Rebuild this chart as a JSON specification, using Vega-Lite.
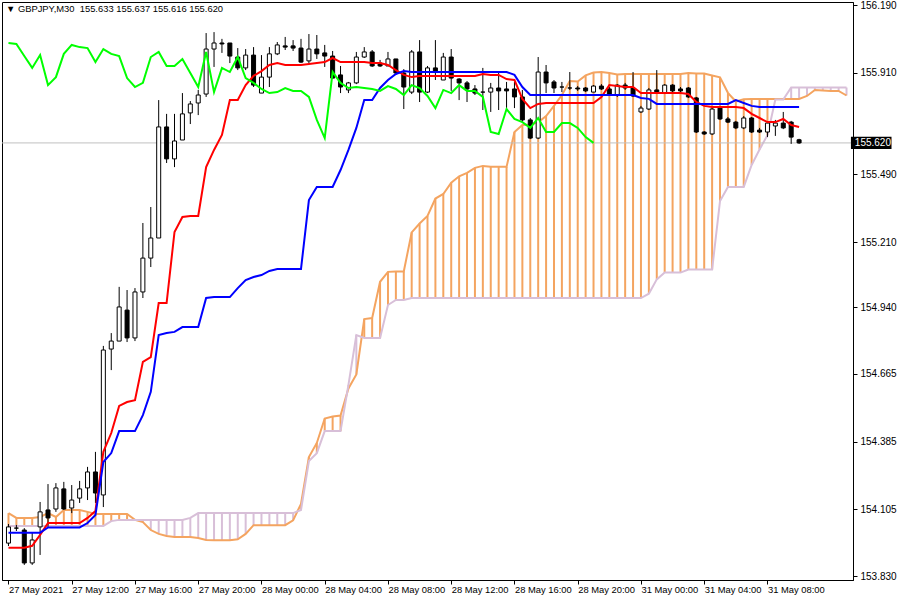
{
"$schema": "https://vega.github.io/schema/vega-lite/v6.json",
"width": 851, "height": 578,
"autosize": {"type": "none"},
"padding": {"left": 2, "top": 2, "right": 47, "bottom": 20},
"background": "white",
"config": {"view": {"stroke": "black", "strokeWidth": 1}, "font": "Liberation Sans"},
"title": {"text": "▼ GBPJPY,M30\u00a0 155.633 155.637 155.616 155.620", "anchor": "start", "frame": "group", "orient": "top", "baseline": "top", "offset": -14, "dx": 4, "fontSize": 9.4, "fontWeight": "normal", "color": "black", "font": "Liberation Sans"},
"datasets": {"d": [
{"i":0,"o":153.966,"h":154.045,"l":153.954,"c":154.033,"t":153.947,"k":154.009,"ch":156.033,"sa":154.090,"sb":154.037},
{"i":1,"o":154.028,"h":154.041,"l":154.016,"c":154.028,"t":153.947,"k":154.009,"ch":156.029,"sa":154.070,"sb":154.037},
{"i":2,"o":154.020,"h":154.028,"l":153.876,"c":153.884,"t":153.947,"k":154.009,"ch":155.979,"sa":154.070,"sb":154.037},
{"i":3,"o":153.884,"h":154.010,"l":153.876,"c":153.979,"t":153.955,"k":154.009,"ch":155.930,"sa":154.070,"sb":154.037},
{"i":4,"o":154.033,"h":154.136,"l":153.917,"c":154.095,"t":154.000,"k":154.009,"ch":155.983,"sa":154.074,"sb":154.037},
{"i":5,"o":154.103,"h":154.210,"l":154.033,"c":154.070,"t":154.049,"k":154.031,"ch":155.859,"sa":154.090,"sb":154.037},
{"i":6,"o":154.107,"h":154.214,"l":154.095,"c":154.194,"t":154.049,"k":154.031,"ch":155.892,"sa":154.074,"sb":154.037},
{"i":7,"o":154.190,"h":154.219,"l":154.103,"c":154.107,"t":154.049,"k":154.031,"ch":155.988,"sa":154.103,"sb":154.037},
{"i":8,"o":154.111,"h":154.206,"l":154.090,"c":154.144,"t":154.049,"k":154.031,"ch":156.025,"sa":154.103,"sb":154.037},
{"i":9,"o":154.152,"h":154.223,"l":154.132,"c":154.190,"t":154.049,"k":154.031,"ch":156.016,"sa":154.103,"sb":154.037},
{"i":10,"o":154.194,"h":154.281,"l":154.144,"c":154.260,"t":154.070,"k":154.049,"ch":156.012,"sa":154.095,"sb":154.037},
{"i":11,"o":154.260,"h":154.343,"l":154.132,"c":154.173,"t":154.099,"k":154.082,"ch":155.954,"sa":154.086,"sb":154.037},
{"i":12,"o":154.165,"h":154.781,"l":154.115,"c":154.764,"t":154.343,"k":154.301,"ch":156.008,"sa":154.086,"sb":154.037},
{"i":13,"o":154.768,"h":154.834,"l":154.681,"c":154.801,"t":154.421,"k":154.338,"ch":155.988,"sa":154.086,"sb":154.057},
{"i":14,"o":154.801,"h":155.025,"l":154.801,"c":154.942,"t":154.533,"k":154.429,"ch":155.979,"sa":154.086,"sb":154.062},
{"i":15,"o":154.929,"h":155.012,"l":154.797,"c":154.814,"t":154.549,"k":154.429,"ch":155.888,"sa":154.086,"sb":154.062},
{"i":16,"o":154.814,"h":155.020,"l":154.801,"c":155.004,"t":154.557,"k":154.429,"ch":155.851,"sa":154.062,"sb":154.062},
{"i":17,"o":155.004,"h":155.289,"l":154.979,"c":155.144,"t":154.715,"k":154.495,"ch":155.868,"sa":154.053,"sb":154.062},
{"i":18,"o":155.144,"h":155.355,"l":155.107,"c":155.227,"t":154.735,"k":154.591,"ch":155.975,"sa":154.020,"sb":154.062},
{"i":19,"o":155.227,"h":155.797,"l":155.227,"c":155.686,"t":154.958,"k":154.826,"ch":155.996,"sa":154.004,"sb":154.062},
{"i":20,"o":155.686,"h":155.740,"l":155.537,"c":155.554,"t":154.958,"k":154.834,"ch":155.938,"sa":153.995,"sb":154.062},
{"i":21,"o":155.554,"h":155.740,"l":155.520,"c":155.628,"t":155.252,"k":154.839,"ch":155.938,"sa":153.991,"sb":154.062},
{"i":22,"o":155.632,"h":155.826,"l":155.632,"c":155.740,"t":155.314,"k":154.859,"ch":155.967,"sa":153.991,"sb":154.062},
{"i":23,"o":155.744,"h":155.793,"l":155.698,"c":155.781,"t":155.318,"k":154.859,"ch":155.909,"sa":153.991,"sb":154.070},
{"i":24,"o":155.785,"h":155.839,"l":155.735,"c":155.818,"t":155.318,"k":154.859,"ch":155.851,"sa":153.987,"sb":154.090},
{"i":25,"o":155.822,"h":156.074,"l":155.810,"c":156.008,"t":155.520,"k":154.979,"ch":155.996,"sa":153.979,"sb":154.090},
{"i":26,"o":156.008,"h":156.078,"l":155.934,"c":156.033,"t":155.591,"k":154.983,"ch":155.830,"sa":153.978,"sb":154.090},
{"i":27,"o":156.033,"h":156.050,"l":155.992,"c":156.029,"t":155.653,"k":154.983,"ch":155.930,"sa":153.978,"sb":154.090},
{"i":28,"o":156.033,"h":156.033,"l":155.950,"c":155.979,"t":155.797,"k":154.983,"ch":155.913,"sa":153.978,"sb":154.090},
{"i":29,"o":155.975,"h":156.012,"l":155.921,"c":155.930,"t":155.797,"k":155.020,"ch":155.975,"sa":153.982,"sb":154.090},
{"i":30,"o":155.930,"h":156.008,"l":155.921,"c":155.983,"t":155.859,"k":155.053,"ch":155.888,"sa":154.004,"sb":154.090},
{"i":31,"o":155.983,"h":156.016,"l":155.851,"c":155.859,"t":155.897,"k":155.066,"ch":155.868,"sa":154.040,"sb":154.090},
{"i":32,"o":155.826,"h":155.983,"l":155.826,"c":155.892,"t":155.917,"k":155.074,"ch":155.843,"sa":154.040,"sb":154.090},
{"i":33,"o":155.892,"h":156.016,"l":155.851,"c":155.988,"t":155.942,"k":155.091,"ch":155.826,"sa":154.040,"sb":154.090},
{"i":34,"o":155.988,"h":156.037,"l":155.983,"c":156.025,"t":155.950,"k":155.099,"ch":155.830,"sa":154.040,"sb":154.090},
{"i":35,"o":156.021,"h":156.058,"l":156.004,"c":156.016,"t":155.942,"k":155.099,"ch":155.847,"sa":154.040,"sb":154.090},
{"i":36,"o":156.021,"h":156.045,"l":156.000,"c":156.012,"t":155.942,"k":155.099,"ch":155.835,"sa":154.060,"sb":154.090},
{"i":37,"o":156.012,"h":156.050,"l":155.950,"c":155.954,"t":155.942,"k":155.099,"ch":155.835,"sa":154.128,"sb":154.103},
{"i":38,"o":155.959,"h":156.070,"l":155.950,"c":156.008,"t":155.946,"k":155.384,"ch":155.810,"sa":154.322,"sb":154.305},
{"i":39,"o":156.008,"h":156.066,"l":155.967,"c":155.988,"t":155.950,"k":155.438,"ch":155.715,"sa":154.380,"sb":154.338},
{"i":40,"o":155.992,"h":156.025,"l":155.934,"c":155.979,"t":155.954,"k":155.438,"ch":155.640,"sa":154.481,"sb":154.429},
{"i":41,"o":155.979,"h":156.000,"l":155.884,"c":155.888,"t":155.971,"k":155.438,"ch":155.913,"sa":154.489,"sb":154.429},
{"i":42,"o":155.901,"h":155.938,"l":155.826,"c":155.851,"t":155.954,"k":155.508,"ch":155.868,"sa":154.493,"sb":154.429},
{"i":43,"o":155.839,"h":155.872,"l":155.826,"c":155.868,"t":155.954,"k":155.591,"ch":155.847,"sa":154.605,"sb":154.620},
{"i":44,"o":155.868,"h":155.996,"l":155.863,"c":155.975,"t":155.954,"k":155.682,"ch":155.851,"sa":154.663,"sb":154.826},
{"i":45,"o":155.975,"h":156.016,"l":155.971,"c":155.996,"t":155.954,"k":155.797,"ch":155.847,"sa":154.892,"sb":154.814},
{"i":46,"o":155.996,"h":156.004,"l":155.934,"c":155.938,"t":155.950,"k":155.797,"ch":155.843,"sa":154.896,"sb":154.814},
{"i":47,"o":155.950,"h":155.963,"l":155.934,"c":155.938,"t":155.950,"k":155.847,"ch":155.835,"sa":155.046,"sb":154.814},
{"i":48,"o":155.938,"h":155.996,"l":155.938,"c":155.967,"t":155.942,"k":155.880,"ch":155.855,"sa":155.087,"sb":154.950},
{"i":49,"o":155.967,"h":155.967,"l":155.901,"c":155.909,"t":155.921,"k":155.905,"ch":155.843,"sa":155.089,"sb":154.971},
{"i":50,"o":155.909,"h":155.925,"l":155.760,"c":155.851,"t":155.901,"k":155.917,"ch":155.818,"sa":155.089,"sb":154.971},
{"i":51,"o":155.830,"h":156.004,"l":155.822,"c":155.996,"t":155.892,"k":155.913,"ch":155.859,"sa":155.250,"sb":154.979},
{"i":52,"o":155.996,"h":156.045,"l":155.789,"c":155.830,"t":155.897,"k":155.913,"ch":155.847,"sa":155.287,"sb":154.979},
{"i":53,"o":155.830,"h":155.938,"l":155.826,"c":155.930,"t":155.897,"k":155.913,"ch":155.814,"sa":155.318,"sb":154.979},
{"i":54,"o":155.930,"h":156.045,"l":155.880,"c":155.913,"t":155.897,"k":155.913,"ch":155.764,"sa":155.390,"sb":154.979},
{"i":55,"o":155.880,"h":155.992,"l":155.880,"c":155.975,"t":155.897,"k":155.913,"ch":155.839,"sa":155.409,"sb":154.979},
{"i":56,"o":155.975,"h":156.008,"l":155.835,"c":155.888,"t":155.897,"k":155.913,"ch":155.826,"sa":155.456,"sb":154.979},
{"i":57,"o":155.884,"h":155.888,"l":155.797,"c":155.868,"t":155.897,"k":155.913,"ch":155.859,"sa":155.482,"sb":154.979},
{"i":58,"o":155.868,"h":155.876,"l":155.789,"c":155.843,"t":155.897,"k":155.913,"ch":155.835,"sa":155.496,"sb":154.979},
{"i":59,"o":155.843,"h":155.859,"l":155.818,"c":155.826,"t":155.897,"k":155.913,"ch":155.835,"sa":155.517,"sb":154.979},
{"i":60,"o":155.830,"h":155.930,"l":155.756,"c":155.830,"t":155.905,"k":155.913,"ch":155.810,"sa":155.525,"sb":154.979},
{"i":61,"o":155.830,"h":155.868,"l":155.748,"c":155.847,"t":155.901,"k":155.913,"ch":155.665,"sa":155.521,"sb":154.979},
{"i":62,"o":155.847,"h":155.909,"l":155.756,"c":155.835,"t":155.901,"k":155.913,"ch":155.657,"sa":155.521,"sb":154.979},
{"i":63,"o":155.843,"h":155.872,"l":155.756,"c":155.835,"t":155.884,"k":155.913,"ch":155.760,"sa":155.521,"sb":154.979},
{"i":64,"o":155.843,"h":155.872,"l":155.764,"c":155.810,"t":155.880,"k":155.901,"ch":155.719,"sa":155.665,"sb":154.979},
{"i":65,"o":155.810,"h":155.839,"l":155.706,"c":155.715,"t":155.802,"k":155.851,"ch":155.706,"sa":155.694,"sb":154.979},
{"i":66,"o":155.715,"h":155.723,"l":155.636,"c":155.640,"t":155.764,"k":155.818,"ch":155.682,"sa":155.696,"sb":154.979},
{"i":67,"o":155.640,"h":155.975,"l":155.636,"c":155.913,"t":155.781,"k":155.818,"ch":155.723,"sa":155.705,"sb":154.979},
{"i":68,"o":155.913,"h":155.942,"l":155.826,"c":155.868,"t":155.785,"k":155.818,"ch":155.665,"sa":155.731,"sb":154.979},
{"i":69,"o":155.872,"h":155.880,"l":155.826,"c":155.847,"t":155.785,"k":155.818,"ch":155.665,"sa":155.773,"sb":154.979},
{"i":70,"o":155.851,"h":155.872,"l":155.830,"c":155.851,"t":155.785,"k":155.818,"ch":155.702,"sa":155.818,"sb":154.979},
{"i":71,"o":155.847,"h":155.913,"l":155.839,"c":155.847,"t":155.785,"k":155.818,"ch":155.702,"sa":155.876,"sb":154.979},
{"i":72,"o":155.847,"h":155.855,"l":155.835,"c":155.843,"t":155.785,"k":155.818,"ch":155.682,"sa":155.874,"sb":154.979},
{"i":73,"o":155.847,"h":155.851,"l":155.830,"c":155.835,"t":155.785,"k":155.818,"ch":155.644,"sa":155.899,"sb":154.979},
{"i":74,"o":155.830,"h":155.859,"l":155.830,"c":155.855,"t":155.785,"k":155.818,"ch":155.620,"sa":155.911,"sb":154.979},
{"i":75,"o":155.855,"h":155.863,"l":155.839,"c":155.843,"t":155.810,"k":155.818,"sa":155.913,"sb":154.979},
{"i":76,"o":155.843,"h":155.851,"l":155.814,"c":155.818,"t":155.859,"k":155.818,"sa":155.909,"sb":154.979},
{"i":77,"o":155.818,"h":155.863,"l":155.810,"c":155.859,"t":155.855,"k":155.818,"sa":155.903,"sb":154.979},
{"i":78,"o":155.859,"h":155.868,"l":155.839,"c":155.847,"t":155.851,"k":155.818,"sa":155.905,"sb":154.979},
{"i":79,"o":155.847,"h":155.913,"l":155.810,"c":155.814,"t":155.851,"k":155.818,"sa":155.905,"sb":154.979},
{"i":80,"o":155.748,"h":155.773,"l":155.744,"c":155.764,"t":155.826,"k":155.806,"sa":155.905,"sb":154.979},
{"i":81,"o":155.760,"h":155.847,"l":155.756,"c":155.839,"t":155.826,"k":155.802,"sa":155.905,"sb":154.997},
{"i":82,"o":155.839,"h":155.921,"l":155.826,"c":155.826,"t":155.826,"k":155.781,"sa":155.905,"sb":155.056},
{"i":83,"o":155.826,"h":155.863,"l":155.822,"c":155.859,"t":155.826,"k":155.781,"sa":155.905,"sb":155.084},
{"i":84,"o":155.859,"h":155.863,"l":155.830,"c":155.835,"t":155.826,"k":155.781,"sa":155.905,"sb":155.084},
{"i":85,"o":155.843,"h":155.851,"l":155.830,"c":155.835,"t":155.826,"k":155.781,"sa":155.905,"sb":155.084},
{"i":86,"o":155.847,"h":155.851,"l":155.806,"c":155.810,"t":155.822,"k":155.781,"sa":155.909,"sb":155.097},
{"i":87,"o":155.806,"h":155.810,"l":155.661,"c":155.665,"t":155.789,"k":155.781,"sa":155.907,"sb":155.097},
{"i":88,"o":155.665,"h":155.669,"l":155.653,"c":155.657,"t":155.773,"k":155.781,"sa":155.907,"sb":155.097},
{"i":89,"o":155.657,"h":155.764,"l":155.653,"c":155.760,"t":155.768,"k":155.781,"sa":155.899,"sb":155.097},
{"i":90,"o":155.764,"h":155.768,"l":155.715,"c":155.719,"t":155.768,"k":155.781,"sa":155.891,"sb":155.380},
{"i":91,"o":155.719,"h":155.727,"l":155.702,"c":155.706,"t":155.768,"k":155.781,"sa":155.827,"sb":155.438},
{"i":92,"o":155.706,"h":155.711,"l":155.677,"c":155.682,"t":155.768,"k":155.797,"sa":155.791,"sb":155.438},
{"i":93,"o":155.682,"h":155.731,"l":155.677,"c":155.723,"t":155.764,"k":155.785,"sa":155.800,"sb":155.438},
{"i":94,"o":155.723,"h":155.727,"l":155.661,"c":155.665,"t":155.740,"k":155.773,"sa":155.802,"sb":155.529},
{"i":95,"o":155.673,"h":155.682,"l":155.661,"c":155.665,"t":155.723,"k":155.768,"sa":155.802,"sb":155.593},
{"i":96,"o":155.665,"h":155.706,"l":155.644,"c":155.702,"t":155.706,"k":155.768,"sa":155.802,"sb":155.652},
{"i":97,"o":155.690,"h":155.715,"l":155.649,"c":155.702,"t":155.706,"k":155.768,"sa":155.802,"sb":155.799},
{"i":98,"o":155.702,"h":155.748,"l":155.677,"c":155.682,"t":155.719,"k":155.768,"sa":155.802,"sb":155.799},
{"i":99,"o":155.706,"h":155.711,"l":155.616,"c":155.644,"t":155.694,"k":155.768,"sa":155.802,"sb":155.849},
{"i":100,"o":155.633,"h":155.637,"l":155.616,"c":155.620,"t":155.686,"k":155.768,"sa":155.802,"sb":155.849},
{"i":101,"sa":155.814,"sb":155.849},
{"i":102,"sa":155.839,"sb":155.849},
{"i":103,"sa":155.837,"sb":155.849},
{"i":104,"sa":155.835,"sb":155.849},
{"i":105,"sa":155.835,"sb":155.849},
{"i":106,"sa":155.816,"sb":155.849}
]},
"layer": [
{"data": {"name": "d"},
 "mark": {"type": "rule", "strokeWidth": 2},
 "encoding": {
  "x": {"field": "i", "type": "quantitative", "title": null, "scale": {"domain": [-0.1875, 106.1875], "nice": false, "zero": false},
        "axis": {"orient": "bottom", "values": [0,8,16,24,32,40,48,56,64,72,80,88,96], "labelExpr": "['27 May 2021','27 May 12:00','27 May 16:00','27 May 20:00','28 May 00:00','28 May 04:00','28 May 08:00','28 May 12:00','28 May 16:00','28 May 20:00','31 May 00:00','31 May 04:00','31 May 08:00'][round(datum.value/8)]", "labelAlign": "left", "labelBaseline": "top", "labelPadding": 1, "labelFontSize": 9.4, "labelFont": "Liberation Sans", "labelColor": "black", "tickColor": "black", "tickSize": 4, "domainColor": "black", "grid": false, "labelFlush": false, "labelOverlap": false, "labelBound": false}},
  "y": {"field": "sa", "type": "quantitative", "title": null, "scale": {"domain": [153.8135, 156.2024], "nice": false, "zero": false},
        "axis": {"orient": "right", "values": [156.19,156.05,155.91,155.77,155.49,155.35,155.21,155.075,154.94,154.805,154.665,154.525,154.385,154.245,154.105,153.965,153.83], "format": ".3f", "labelFontSize": 10, "labelFont": "Liberation Sans", "labelColor": "black", "tickColor": "black", "tickSize": 4, "labelPadding": 3, "domainColor": "black", "grid": false, "labelOverlap": false, "labelBound": false, "labelFlush": false}},
  "y2": {"field": "sb"},
  "color": {"condition": {"test": "datum.sa >= datum.sb", "value": "#F4A460"}, "value": "#D8BFD8"}
 }},
{"data": {"name": "d"},
 "mark": {"type": "line", "color": "#F4A460", "strokeWidth": 2},
 "encoding": {
  "x": {"field": "i", "type": "quantitative", "title": null, "scale": {"domain": [-0.1875, 106.1875], "nice": false, "zero": false}},
  "y": {"field": "sa", "type": "quantitative", "title": null, "scale": {"domain": [153.8135, 156.2024], "nice": false, "zero": false}}
 }},
{"data": {"name": "d"},
 "mark": {"type": "line", "color": "#D8BFD8", "strokeWidth": 2},
 "encoding": {
  "x": {"field": "i", "type": "quantitative", "title": null, "scale": {"domain": [-0.1875, 106.1875], "nice": false, "zero": false}},
  "y": {"field": "sb", "type": "quantitative", "title": null, "scale": {"domain": [153.8135, 156.2024], "nice": false, "zero": false}}
 }},
{"data": {"values": [{"p": 155.62}]},
 "mark": {"type": "rule", "color": "#C0C0C0", "strokeWidth": 1},
 "encoding": {
  "y": {"field": "p", "type": "quantitative", "title": null, "scale": {"domain": [153.8135, 156.2024], "nice": false, "zero": false}}
 }},
{"data": {"name": "d"},
 "transform": [{"filter": "isValid(datum.c)"}],
 "mark": {"type": "rule", "color": "black", "strokeWidth": 1},
 "encoding": {
  "x": {"field": "i", "type": "quantitative", "title": null, "scale": {"domain": [-0.1875, 106.1875], "nice": false, "zero": false}},
  "y": {"field": "l", "type": "quantitative", "title": null, "scale": {"domain": [153.8135, 156.2024], "nice": false, "zero": false}},
  "y2": {"field": "h"}
 }},
{"data": {"name": "d"},
 "transform": [{"filter": "isValid(datum.c)"}],
 "mark": {"type": "bar", "width": 4, "orient": "vertical", "stroke": "black", "strokeWidth": 1},
 "encoding": {
  "x": {"field": "i", "type": "quantitative", "title": null, "scale": {"domain": [-0.1875, 106.1875], "nice": false, "zero": false}},
  "y": {"field": "o", "type": "quantitative", "title": null, "scale": {"domain": [153.8135, 156.2024], "nice": false, "zero": false}},
  "y2": {"field": "c"},
  "fill": {"condition": {"test": "datum.c >= datum.o", "value": "white"}, "value": "black"}
 }},
{"data": {"name": "d"},
 "mark": {"type": "line", "color": "#FF0000", "strokeWidth": 2},
 "encoding": {
  "x": {"field": "i", "type": "quantitative", "title": null, "scale": {"domain": [-0.1875, 106.1875], "nice": false, "zero": false}},
  "y": {"field": "t", "type": "quantitative", "title": null, "scale": {"domain": [153.8135, 156.2024], "nice": false, "zero": false}}
 }},
{"data": {"name": "d"},
 "mark": {"type": "line", "color": "#0000FF", "strokeWidth": 2},
 "encoding": {
  "x": {"field": "i", "type": "quantitative", "title": null, "scale": {"domain": [-0.1875, 106.1875], "nice": false, "zero": false}},
  "y": {"field": "k", "type": "quantitative", "title": null, "scale": {"domain": [153.8135, 156.2024], "nice": false, "zero": false}}
 }},
{"data": {"name": "d"},
 "mark": {"type": "line", "color": "#00FF00", "strokeWidth": 2},
 "encoding": {
  "x": {"field": "i", "type": "quantitative", "title": null, "scale": {"domain": [-0.1875, 106.1875], "nice": false, "zero": false}},
  "y": {"field": "ch", "type": "quantitative", "title": null, "scale": {"domain": [153.8135, 156.2024], "nice": false, "zero": false}}
 }},
{"data": {"values": [{"x1": 106.56, "x2": 111.69, "y1": 155.645, "y2": 155.595}]},
 "mark": {"type": "rect", "color": "black", "clip": false},
 "encoding": {
  "x": {"field": "x1", "type": "quantitative", "title": null, "scale": {"domain": [-0.1875, 106.1875], "nice": false, "zero": false}},
  "x2": {"field": "x2"},
  "y": {"field": "y1", "type": "quantitative", "title": null, "scale": {"domain": [153.8135, 156.2024], "nice": false, "zero": false}},
  "y2": {"field": "y2"}
 }},
{"data": {"values": [{"x": 107.05, "p": 155.62, "label": "155.620"}]},
 "mark": {"type": "text", "color": "white", "align": "left", "baseline": "middle", "fontSize": 10, "font": "Liberation Sans", "clip": false},
 "encoding": {
  "x": {"field": "x", "type": "quantitative", "title": null, "scale": {"domain": [-0.1875, 106.1875], "nice": false, "zero": false}},
  "y": {"field": "p", "type": "quantitative", "title": null, "scale": {"domain": [153.8135, 156.2024], "nice": false, "zero": false}},
  "text": {"field": "label"}
 }}
]
}
